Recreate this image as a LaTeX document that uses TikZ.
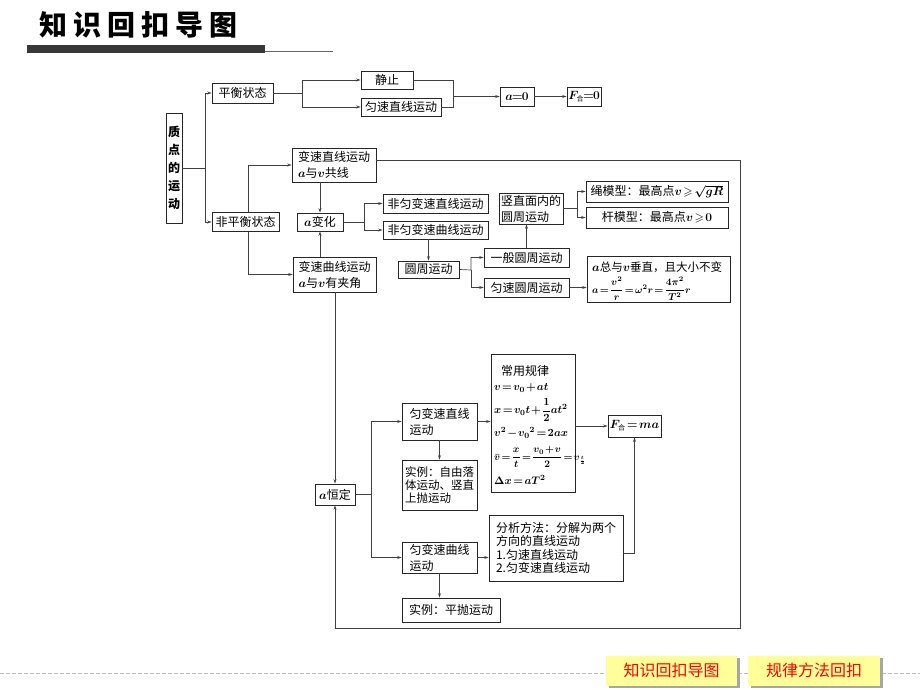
\documentclass[tikz,border=0pt]{standalone}
\usepackage{amsmath,amssymb}
\usepackage{fontspec}
\setmainfont{Noto Sans CJK SC}
\usetikzlibrary{arrows.meta}
\definecolor{btny}{HTML}{FFFF99}
\newcommand{\hesub}{\mbox{\fontsize{7}{8}\selectfont 合}}
\newcommand{\tightmath}{\thickmuskip=2mu plus 1mu\medmuskip=1.5mu}
\begin{document}
\begin{tikzpicture}[x=1pt,y=-1pt,
  box/.style={draw=black!85, line width=0.9pt, inner sep=0pt, fill=white,
    font=\fontsize{12}{16}\selectfont\boldmath\tightmath},
  ln/.style={draw=black!75, line width=0.7pt},
  arr/.style={ln, -{Stealth[length=4.5pt,width=3pt]}},
  ftxt/.style={anchor=west, inner sep=0pt, font=\fontsize{11}{13}\selectfont\boldmath\tightmath},
  btn/.style={fill=btny, inner sep=0pt, minimum width=131pt, minimum height=30pt,
    text=red, font=\fontsize{16}{18}\selectfont}
]
\useasboundingbox (0,0) rectangle (920,690);

% header
\node[anchor=west, inner sep=0pt, font=\fontsize{28}{30}\selectfont\bfseries] (title) at (39,25)
  {知\kern6pt识\kern6pt回\kern6pt扣\kern6pt导\kern6pt图};
\fill[black!78] (27,45) rectangle (265,53);
\draw[black!60, line width=1pt] (265,52) -- (333,52);

% nodes
\node[box, minimum width=16pt, minimum height=110pt, align=center,
  font=\fontsize{12}{18}\selectfont\bfseries] (zd) at (174,168) {质\\点\\的\\运\\动};
\node[box, minimum width=61pt, minimum height=20pt] (ph) at (242.5,93) {平衡状态};
\node[box, minimum width=67pt, minimum height=19pt] (fph) at (245.5,222) {非平衡状态};
\node[box, minimum width=52pt, minimum height=18pt] (jz) at (387,80) {静止};
\node[box, minimum width=80pt, minimum height=18pt] (ys1) at (401,107) {匀速直线运动};
\node[box, minimum width=34pt, minimum height=19pt] (a0) at (517,96.5) {$a\!=\!0$};
\node[box, minimum width=34pt, minimum height=19pt] (f0) at (584,96.5) {$F_{\hesub}\!=\!0$};

\node[box, minimum width=84pt, minimum height=34pt, align=left] (bszx) at (334,165) {变速直线运动\\$a$与$v$共线};
\node[box, minimum width=83pt, minimum height=35pt, align=left] (bsqx) at (334.5,274.5) {变速曲线运动\\$a$与$v$有夹角};
\node[box, minimum width=46pt, minimum height=18pt] (abh) at (320,222) {$a$变化};
\node[box, minimum width=105pt, minimum height=19pt] (fj1) at (435.5,203.5) {非匀变速直线运动};
\node[box, minimum width=105pt, minimum height=18pt] (fj2) at (435.5,230) {非匀变速曲线运动};
\node[box, minimum width=61pt, minimum height=17pt] (yz) at (428.5,269.5) {圆周运动};
\node[box, minimum width=85pt, minimum height=19pt] (yb) at (526.5,257.5) {一般圆周运动};
\node[box, minimum width=85pt, minimum height=19pt] (ysy) at (526.5,287.5) {匀速圆周运动};
\node[box, minimum width=64pt, minimum height=31pt, align=left] (sz) at (531,208.5) {竖直面内的\\圆周运动};
\node[box, minimum width=142pt, minimum height=21pt] (sheng) at (657,191.5) {绳模型：最高点$v\geqslant\sqrt{gR}$};
\node[box, minimum width=142pt, minimum height=21pt] (gan) at (657,217.5) {杆模型：最高点$v\geqslant 0$};
\node[box, minimum width=143pt, minimum height=46pt] (az) at (658.5,279) {};
\node[ftxt, font=\fontsize{11.5}{13}\selectfont\boldmath] (az1) at (592,267) {$a$总与$v$垂直，且大小不变};
\node[ftxt, font=\fontsize{10}{12}\selectfont\boldmath\tightmath] (az2) at (592,289) {$a=\dfrac{v^2}{r}=\omega^2r=\dfrac{4\pi^2}{T^2}r$};

\node[box, minimum width=40pt, minimum height=21pt] (ahd) at (335,494.5) {$a$恒定};
\node[box, minimum width=75pt, minimum height=37pt, align=left] (yzx) at (439.5,421.5) {匀变速直线\\运动};
\node[box, minimum width=75pt, minimum height=50pt, align=left,
  font=\fontsize{11.5}{13}\selectfont] (sl1) at (439.5,485) {实例：自由落\\体运动、竖直\\上抛运动};
\node[box, minimum width=84pt, minimum height=138pt] (cy) at (533,423) {};
\node[ftxt, font=\fontsize{12}{14}\selectfont] (cy1) at (501,371) {常用规律};
\node[ftxt] (cy2) at (494,388) {$v=v_0+at$};
\node[ftxt] (cy3) at (494,410) {$x=v_0t+\dfrac{1}{2}at^2$};
\node[ftxt] (cy4) at (494,433) {$v^2-{v_0}^2=2ax$};
\node[ftxt, font=\fontsize{10}{12}\selectfont\boldmath\tightmath] (cy5) at (494,457) {$\bar{v}=\dfrac{x}{t}=\dfrac{v_0+v}{2}=v_{\frac{t}{2}}$};
\node[ftxt] (cy6) at (494,480) {$\Delta x=aT^2$};
\node[box, minimum width=53pt, minimum height=22pt] (fma) at (634.5,426) {$F_{\hesub}=ma$};
\node[box, minimum width=75pt, minimum height=31pt, align=left] (yqx) at (439.5,557.5) {匀变速曲线\\运动};
\node[box, minimum width=134pt, minimum height=66pt, align=left,
  font=\fontsize{12}{13.5}\selectfont] (fx) at (556,548)
  {分析方法：分解为两个\\方向的直线运动\\1.匀速直线运动\\2.匀变速直线运动};
\node[box, minimum width=98pt, minimum height=24pt] (sl2) at (451,610) {实例：平抛运动};

% junctions
\coordinate (j1) at (205,168);
\coordinate (j2) at (302,93);
\coordinate (j3) at (453,96.5);
\coordinate (j4) at (364,222);
\coordinate (j5) at (471,270);
\coordinate (j6) at (577,208.5);
\coordinate (j7) at (371,494.5);
\coordinate (L1) at (740,160);
\coordinate (L2) at (740,628);
\coordinate (L3) at (335,628);

% connectors
\draw[arr] (zd.east) -- (j1) |- (ph.west);
\draw[arr] (j1) |- (fph.west);
\draw[arr] (ph.east) -- (j2) |- (jz.west);
\draw[arr] (j2) |- (ys1.west);
\draw[ln] (jz.east) -| (j3);
\draw[ln] (ys1.east) -| (j3);
\draw[arr] (j3) -- (a0.west);
\draw[arr] (a0.east) -- (f0.west);

\draw[arr] ([xshift=2.5pt]fph.north) |- (bszx.west);
\draw[arr] ([xshift=2.5pt]fph.south) |- (bsqx.west);
\draw[arr] (bszx.south -| abh.north) -- (abh.north);
\draw[arr] (bsqx.north -| abh.south) -- (abh.south);
\draw[arr] (abh.east) -- (j4) |- (fj1.west);
\draw[arr] (j4) |- (fj2.west);
\draw[arr] (fj2.south -| yz.north) -- (yz.north);
\draw[arr] (yz.east) -- (j5) |- (yb.west);
\draw[arr] (j5) |- (ysy.west);
\draw[arr] (yb.north) -- (yb.north |- sz.south);
\draw[arr] (sz.east) -- (j6) |- (sheng.west);
\draw[arr] (j6) |- (gan.west);
\draw[arr] (ysy.east) -- (ysy.east -| az.west);

\draw[arr] ([yshift=5pt]bszx.east) -- (L1) -- (L2) -- (L3) -- (ahd.south);
\draw[arr] (bsqx.south -| ahd.north) -- (ahd.north);
\draw[arr] (ahd.east) -- (j7) |- (yzx.west);
\draw[arr] (j7) |- (yqx.west);
\draw[arr] (yzx.south) -- (sl1.north);
\draw[arr] (yzx.east) -- (yzx.east -| cy.west);
\draw[arr] (cy.east |- fma.west) -- (fma.west);
\draw[arr] (yqx.east) -- (yqx.east -| fx.west);
\draw[arr] ([yshift=-5pt]fx.east) -| (fma.south);
\draw[arr] (yqx.south) -- (yqx.south |- sl2.north);

% bottom bar
\draw[gray!55, line width=1pt, dash pattern=on 4pt off 2pt] (0,673) -- (920,673);
\fill[black!35] (609,658) rectangle (740,688);
\fill[black!35] (751,658) rectangle (883,688);
\node[btn] (b1) at (671.5,670.5) {知识回扣导图};
\node[btn, minimum width=132pt] (b2) at (814,670.5) {规律方法回扣};
\end{tikzpicture}
\end{document}
